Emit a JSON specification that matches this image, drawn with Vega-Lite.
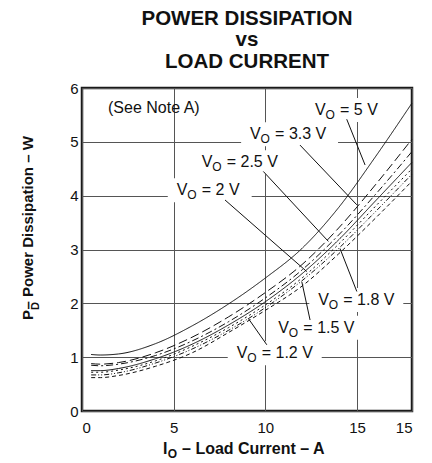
{
  "$schema": "https://vega.github.io/schema/vega-lite/v6.json",
  "width": 330,
  "height": 323,
  "autosize": {"type": "none"},
  "padding": {"left": 82, "top": 88, "right": 20, "bottom": 52},
  "background": "white",
  "config": {
    "view": {"stroke": "#1a1a1a", "strokeWidth": 2.5},
    "font": "Liberation Sans",
    "axis": {"grid": true, "gridColor": "#555", "gridWidth": 1, "gridOpacity": 1, "ticks": false, "domain": false, "labelFont": "Liberation Sans", "labelFontSize": 15, "labelColor": "#111", "title": null}
  },
  "title": {
    "text": ["POWER DISSIPATION", "vs", "LOAD CURRENT"],
    "font": "Liberation Sans", "fontSize": 20.5, "fontWeight": "bold", "lineHeight": 21.5,
    "anchor": "middle", "offset": 9, "color": "#111"
  },
  "datasets": {
    "curves": [
      {"series": "5 V", "x": 0.5, "y": 1.05}, {"series": "5 V", "x": 1, "y": 1.04}, {"series": "5 V", "x": 2, "y": 1.06}, {"series": "5 V", "x": 4, "y": 1.25}, {"series": "5 V", "x": 6, "y": 1.58}, {"series": "5 V", "x": 8, "y": 1.99}, {"series": "5 V", "x": 10, "y": 2.47}, {"series": "5 V", "x": 12, "y": 3.02}, {"series": "5 V", "x": 14, "y": 3.78}, {"series": "5 V", "x": 16, "y": 4.72}, {"series": "5 V", "x": 18, "y": 5.72},
      {"series": "3.3 V", "x": 0.5, "y": 0.88}, {"series": "3.3 V", "x": 1, "y": 0.87}, {"series": "3.3 V", "x": 2, "y": 0.9}, {"series": "3.3 V", "x": 4, "y": 1.08}, {"series": "3.3 V", "x": 6, "y": 1.37}, {"series": "3.3 V", "x": 8, "y": 1.75}, {"series": "3.3 V", "x": 10, "y": 2.2}, {"series": "3.3 V", "x": 12, "y": 2.72}, {"series": "3.3 V", "x": 14, "y": 3.4}, {"series": "3.3 V", "x": 16, "y": 4.2}, {"series": "3.3 V", "x": 18, "y": 5.05},
      {"series": "2.5 V", "x": 0.5, "y": 0.85}, {"series": "2.5 V", "x": 1, "y": 0.84}, {"series": "2.5 V", "x": 2, "y": 0.87}, {"series": "2.5 V", "x": 4, "y": 1.03}, {"series": "2.5 V", "x": 6, "y": 1.3}, {"series": "2.5 V", "x": 8, "y": 1.66}, {"series": "2.5 V", "x": 10, "y": 2.1}, {"series": "2.5 V", "x": 12, "y": 2.62}, {"series": "2.5 V", "x": 14, "y": 3.27}, {"series": "2.5 V", "x": 16, "y": 4.02}, {"series": "2.5 V", "x": 18, "y": 4.82},
      {"series": "2 V", "x": 0.5, "y": 0.75}, {"series": "2 V", "x": 1, "y": 0.75}, {"series": "2 V", "x": 2, "y": 0.79}, {"series": "2 V", "x": 4, "y": 0.97}, {"series": "2 V", "x": 6, "y": 1.24}, {"series": "2 V", "x": 8, "y": 1.6}, {"series": "2 V", "x": 10, "y": 2.03}, {"series": "2 V", "x": 12, "y": 2.55}, {"series": "2 V", "x": 14, "y": 3.18}, {"series": "2 V", "x": 16, "y": 3.9}, {"series": "2 V", "x": 18, "y": 4.62},
      {"series": "1.8 V", "x": 0.5, "y": 0.72}, {"series": "1.8 V", "x": 1, "y": 0.72}, {"series": "1.8 V", "x": 2, "y": 0.76}, {"series": "1.8 V", "x": 4, "y": 0.93}, {"series": "1.8 V", "x": 6, "y": 1.2}, {"series": "1.8 V", "x": 8, "y": 1.55}, {"series": "1.8 V", "x": 10, "y": 1.97}, {"series": "1.8 V", "x": 12, "y": 2.47}, {"series": "1.8 V", "x": 14, "y": 3.1}, {"series": "1.8 V", "x": 16, "y": 3.8}, {"series": "1.8 V", "x": 18, "y": 4.5},
      {"series": "1.5 V", "x": 0.5, "y": 0.67}, {"series": "1.5 V", "x": 1, "y": 0.67}, {"series": "1.5 V", "x": 2, "y": 0.71}, {"series": "1.5 V", "x": 4, "y": 0.89}, {"series": "1.5 V", "x": 6, "y": 1.15}, {"series": "1.5 V", "x": 8, "y": 1.5}, {"series": "1.5 V", "x": 10, "y": 1.92}, {"series": "1.5 V", "x": 12, "y": 2.42}, {"series": "1.5 V", "x": 14, "y": 3.02}, {"series": "1.5 V", "x": 16, "y": 3.7}, {"series": "1.5 V", "x": 18, "y": 4.4},
      {"series": "1.2 V", "x": 0.5, "y": 0.62}, {"series": "1.2 V", "x": 1, "y": 0.62}, {"series": "1.2 V", "x": 2, "y": 0.66}, {"series": "1.2 V", "x": 4, "y": 0.83}, {"series": "1.2 V", "x": 6, "y": 1.08}, {"series": "1.2 V", "x": 8, "y": 1.46}, {"series": "1.2 V", "x": 10, "y": 1.87}, {"series": "1.2 V", "x": 12, "y": 2.32}, {"series": "1.2 V", "x": 14, "y": 2.92}, {"series": "1.2 V", "x": 16, "y": 3.58}, {"series": "1.2 V", "x": 18, "y": 4.27}
    ],
    "labels": [
      {"rest": "= 5 V", "tx": 12.71, "ty": 5.5, "txe": 16.15, "lx1": 14.44, "ly1": 5.42, "lx2": 15.44, "ly2": 4.57},
      {"rest": "= 3.3 V", "tx": 9.17, "ty": 5.05, "txe": 13.42, "lx1": 11.89, "ly1": 4.94, "lx2": 14.99, "ly2": 3.83},
      {"rest": "= 2.5 V", "tx": 6.53, "ty": 4.53, "txe": 10.62, "lx1": 9.89, "ly1": 4.45, "lx2": 13.44, "ly2": 3.15},
      {"rest": "= 2 V", "tx": 5.17, "ty": 4.01, "txe": 8.71, "lx1": 7.8, "ly1": 3.92, "lx2": 12.26, "ly2": 2.59},
      {"rest": "= 1.8 V", "tx": 12.89, "ty": 1.97, "txe": 16.98, "lx1": 14.07, "ly1": 3.02, "lx2": 14.99, "ly2": 2.22},
      {"rest": "= 1.5 V", "tx": 10.71, "ty": 1.455, "txe": 14.8, "lx1": 11.99, "ly1": 2.4, "lx2": 12.44, "ly2": 1.69},
      {"rest": "= 1.2 V", "tx": 8.44, "ty": 0.98, "txe": 12.53, "lx1": 9.07, "ly1": 1.72, "lx2": 10.08, "ly2": 1.23}
    ],
    "note": [{"text": "(See Note A)", "x": 1.42, "y": 5.54}],
    "xtitle": [{"x": 4.42, "y": -0.8}],
    "ytitle": [{"x": -2.7, "y": 1.69}]
  },
  "layer": [
    {
      "data": {"name": "curves"},
      "mark": {"type": "line", "color": "#111", "strokeWidth": 1, "interpolate": "monotone"},
      "encoding": {
        "x": {"field": "x", "type": "quantitative", "scale": {"domain": [0, 18], "nice": false}, "axis": {"values": [0, 5, 10, 15, 18], "labelExpr": "datum.value == 18 ? '15' : datum.label", "labelPadding": 9}},
        "y": {"field": "y", "type": "quantitative", "scale": {"domain": [0, 6], "nice": false}, "axis": {"values": [0, 1, 2, 3, 4, 5, 6], "format": "d", "labelPadding": 4}},
        "strokeDash": {"field": "series", "type": "nominal", "legend": null, "scale": {"domain": ["5 V", "3.3 V", "2.5 V", "2 V", "1.8 V", "1.5 V", "1.2 V"], "range": [[1, 0], [9, 4], [7, 3, 2, 3], [1, 0], [2, 3], [5, 2, 1, 2, 1, 2], [4, 3]]}}
      }
    },
    {
      "data": {"name": "labels"},
      "mark": {"type": "rect", "color": "white", "xOffset": -9, "x2Offset": 10, "yOffset": -17, "y2Offset": 7},
      "encoding": {
        "x": {"field": "tx", "type": "quantitative"},
        "x2": {"field": "txe"},
        "y": {"field": "ty", "type": "quantitative"},
        "y2": {"field": "ty"}
      }
    },
    {
      "data": {"name": "labels"},
      "mark": {"type": "rule", "color": "#111", "strokeWidth": 1},
      "encoding": {
        "x": {"field": "lx1", "type": "quantitative"},
        "y": {"field": "ly1", "type": "quantitative"},
        "x2": {"field": "lx2"},
        "y2": {"field": "ly2"}
      }
    },
    {
      "data": {"name": "labels"},
      "mark": {"type": "text", "text": "V", "align": "left", "baseline": "alphabetic", "fontSize": 16, "color": "#111"},
      "encoding": {"x": {"field": "tx", "type": "quantitative"}, "y": {"field": "ty", "type": "quantitative"}}
    },
    {
      "data": {"name": "labels"},
      "mark": {"type": "text", "text": "O", "align": "left", "baseline": "alphabetic", "fontSize": 12, "dx": 10.5, "dy": 4, "color": "#111"},
      "encoding": {"x": {"field": "tx", "type": "quantitative"}, "y": {"field": "ty", "type": "quantitative"}}
    },
    {
      "data": {"name": "labels"},
      "mark": {"type": "text", "align": "left", "baseline": "alphabetic", "fontSize": 16, "dx": 25, "color": "#111"},
      "encoding": {"x": {"field": "tx", "type": "quantitative"}, "y": {"field": "ty", "type": "quantitative"}, "text": {"field": "rest"}}
    },
    {
      "data": {"name": "note"},
      "mark": {"type": "text", "align": "left", "baseline": "alphabetic", "fontSize": 16, "color": "#111"},
      "encoding": {"x": {"field": "x", "type": "quantitative"}, "y": {"field": "y", "type": "quantitative"}, "text": {"field": "text"}}
    },
    {
      "data": {"name": "xtitle"},
      "mark": {"type": "text", "text": "I", "align": "left", "baseline": "alphabetic", "fontSize": 16, "fontWeight": "bold", "color": "#111"},
      "encoding": {"x": {"field": "x", "type": "quantitative"}, "y": {"field": "y", "type": "quantitative"}}
    },
    {
      "data": {"name": "xtitle"},
      "mark": {"type": "text", "text": "O", "align": "left", "baseline": "alphabetic", "fontSize": 12, "fontWeight": "bold", "dx": 4.6, "dy": 4, "color": "#111"},
      "encoding": {"x": {"field": "x", "type": "quantitative"}, "y": {"field": "y", "type": "quantitative"}}
    },
    {
      "data": {"name": "xtitle"},
      "mark": {"type": "text", "text": "– Load Current – A", "align": "left", "baseline": "alphabetic", "fontSize": 16, "fontWeight": "bold", "dx": 19, "color": "#111"},
      "encoding": {"x": {"field": "x", "type": "quantitative"}, "y": {"field": "y", "type": "quantitative"}}
    },
    {
      "data": {"name": "ytitle"},
      "mark": {"type": "text", "text": "P", "angle": 270, "align": "left", "baseline": "alphabetic", "fontSize": 15, "fontWeight": "bold", "color": "#111"},
      "encoding": {"x": {"field": "x", "type": "quantitative"}, "y": {"field": "y", "type": "quantitative"}}
    },
    {
      "data": {"name": "ytitle"},
      "mark": {"type": "text", "text": "D", "angle": 270, "align": "left", "baseline": "alphabetic", "fontSize": 11, "fontWeight": "bold", "dx": 10, "dy": 6, "color": "#111"},
      "encoding": {"x": {"field": "x", "type": "quantitative"}, "y": {"field": "y", "type": "quantitative"}}
    },
    {
      "data": {"name": "ytitle"},
      "mark": {"type": "text", "text": "– Power Dissipation – W", "angle": 270, "align": "left", "baseline": "alphabetic", "fontSize": 15, "fontWeight": "bold", "dx": 10.5, "color": "#111"},
      "encoding": {"x": {"field": "x", "type": "quantitative"}, "y": {"field": "y", "type": "quantitative"}}
    }
  ]
}
